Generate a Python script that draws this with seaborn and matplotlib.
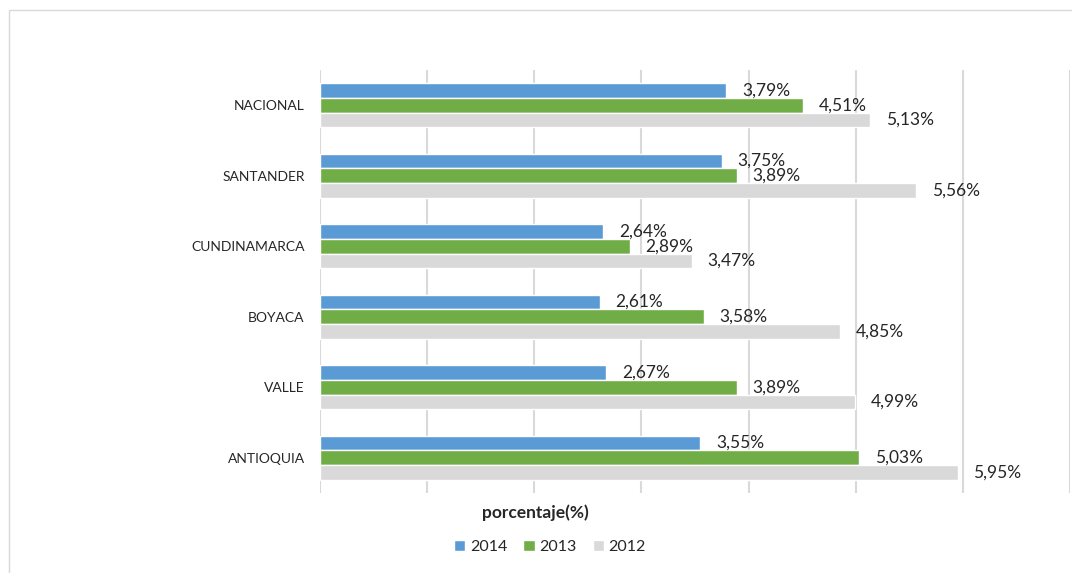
import pandas as pd
import seaborn as sns
from matplotlib import pyplot as plt
from matplotlib.patches import Rectangle

regions = ['NACIONAL', 'SANTANDER', 'CUNDINAMARCA', 'BOYACA', 'VALLE', 'ANTIOQUIA']
years = ['2014', '2013', '2012']
vals_2014 = [3.79, 3.75, 2.64, 2.61, 2.67, 3.55]
vals_2013 = [4.51, 3.89, 2.89, 3.58, 3.89, 5.03]
vals_2012 = [5.13, 5.56, 3.47, 4.85, 4.99, 5.95]

colors = {'2014': '#5b9bd5', '2013': '#70ad47', '2012': '#d9d9d9'}

df = pd.DataFrame({
    'region': regions * 3,
    'year': ['2014'] * 6 + ['2013'] * 6 + ['2012'] * 6,
    'value': vals_2014 + vals_2013 + vals_2012,
})

sns.set_style('white')
plt.rcParams['font.family'] = ['Lato', 'DejaVu Sans']

fig = plt.figure(figsize=(10.72, 5.73), dpi=100)
ax = fig.add_axes([320 / 1072, 1 - 493 / 573, 750 / 1072, 423 / 573])

sns.barplot(data=df, y='region', x='value', hue='year', order=regions, hue_order=years,
            palette=colors, orient='h', width=0.63, saturation=1, ax=ax, legend=True)

# data labels with comma decimals, like the original
for cont in ax.containers:
    ax.bar_label(cont, labels=[f'{v:.2f}%'.replace('.', ',') for v in cont.datavalues],
                 padding=11.5, fontsize=12.5, color='#262626')

ax.set_xlim(0, 7)
ax.set_xticks(range(0, 8))
ax.set_xticklabels([])
ax.tick_params(axis='x', length=0)
ax.tick_params(axis='y', length=0, labelsize=10, labelcolor='#262626', pad=11)
ax.grid(axis='x', color='#d9d9d9', linewidth=1.5)
ax.set_axisbelow(True)
for s in ax.spines.values():
    s.set_visible(False)
ax.set_ylabel('')
ax.set_xlabel('porcentaje(%)', fontsize=12.5, fontweight='bold', color='#262626')
ax.xaxis.set_label_coords((535 - 320) / 750, -0.028)

handles, labels = ax.get_legend_handles_labels()
ax.legend(handles, labels, ncol=3, loc='center', frameon=False,
          bbox_to_anchor=(550 / 1072, 1 - 547 / 573), bbox_transform=fig.transFigure,
          handlelength=0.7, handleheight=0.7, handletextpad=0.3, columnspacing=1.0,
          fontsize=11.5)

fig.patches.append(Rectangle((9 / 1072, -0.02), 1.0, 1.02 - 10 / 573, transform=fig.transFigure,
                             fill=False, edgecolor='#d9d9d9', linewidth=1))

fig.savefig('out.png', dpi=100)
